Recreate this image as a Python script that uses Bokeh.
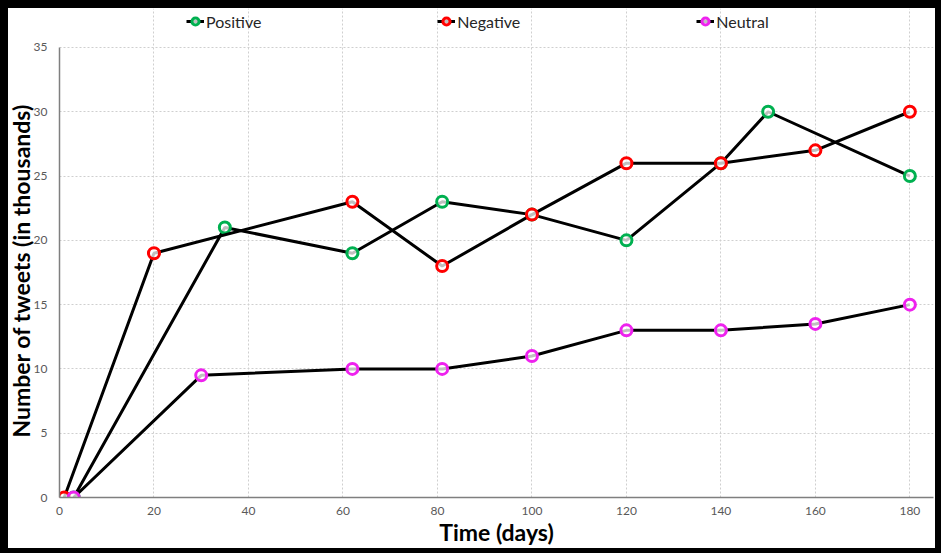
from bokeh.plotting import figure
from bokeh.models import Range1d, FixedTicker, Legend, LegendItem, Column, Title
from bokeh.embed import file_html
from bokeh.resources import INLINE

# Data
pos_x = [3, 35, 62, 81, 100, 120, 140, 150, 180]
pos_y = [0, 21, 19, 23, 22, 20, 26, 30, 25]
neg_x = [1, 20, 62, 81, 100, 120, 140, 160, 180]
neg_y = [0, 19, 23, 18, 22, 26, 26, 27, 30]
neu_x = [3, 30, 62, 81, 100, 120, 140, 160, 180]
neu_y = [0, 9.5, 10, 10, 11, 13, 13, 13.5, 15]
series_names = ["Positive", "Negative", "Neutral"]
series_colors = ["#00b050", "#ff0000", "#ee22ee"]
x_ticks = [0, 20, 40, 60, 80, 100, 120, 140, 160, 180]
y_ticks = [0, 5, 10, 15, 20, 25, 30, 35]
Y_MAX = 35

FONT = "Lato"

# frame extends above the 0-35 axis so the legend can sit at the top
p = figure(width=927, height=540, output_backend="svg", toolbar_location=None,
           x_range=Range1d(0, 185), y_range=Range1d(0, 38.03),
           min_border_left=51, min_border_right=2, min_border_top=0, min_border_bottom=51)
p.outline_line_color = None
p.background_fill_color = "white"
p.border_fill_color = "white"

for ax in (p.xaxis, p.yaxis):
    ax.major_tick_line_color = None
    ax.minor_tick_line_color = None
    ax.major_tick_out = 0
    ax.major_tick_in = 0
    ax.minor_tick_out = 0
    ax.minor_tick_in = 0
    ax.major_label_text_font = FONT
    ax.major_label_text_font_size = "12px"
    ax.major_label_text_color = "#595959"
    ax.axis_label_text_font = FONT
    ax.axis_label_text_font_style = "bold"
    ax.axis_label_text_color = "black"
    ax.axis_line_color = "#7f7f7f"
    ax.axis_line_width = 1.5

p.yaxis.bounds = (0, Y_MAX)
p.xaxis.axis_label_text_font_size = "23px"
p.xaxis.ticker = FixedTicker(ticks=x_ticks)
p.yaxis.ticker = FixedTicker(ticks=y_ticks)
p.xaxis.axis_label = "Time (days)"
p.xaxis.major_label_standoff = 9
p.yaxis.major_label_standoff = 12
p.xaxis.axis_label_standoff = 0

ytitle = Title(text="Number of tweets (in thousands)", align="left", offset=60,
               text_font=FONT, text_font_style="bold", text_font_size="23px",
               text_color="black", standoff=-8)
p.add_layout(ytitle, "left")

for g in (p.xgrid, p.ygrid):
    g.grid_line_color = "#cfcfcf"
    g.grid_line_dash = "2 2"
    g.grid_line_width = 1
p.xgrid.ticker = FixedTicker(ticks=x_ticks[1:])
p.ygrid.ticker = FixedTicker(ticks=y_ticks[1:])
p.xgrid.bounds = (0, Y_MAX)

items = []
for name, xs, ys, col in zip(series_names, [pos_x, neg_x, neu_x], [pos_y, neg_y, neu_y], series_colors):
    ln = p.line(xs, ys, line_color="black", line_width=3)
    sc = p.scatter(xs, ys, marker="circle", size=11, line_color=col, line_width=3,
                   fill_color="white", fill_alpha=0.75)
    items.append((name, ln, sc))

legend_items = [LegendItem(label=n, renderers=[ln, sc]) for n, ln, sc in items]
legend = Legend(items=legend_items, orientation="horizontal", location=(127, 466),
                spacing=176, padding=0, margin=0, label_standoff=2,
                glyph_width=18, glyph_height=20, label_height=20,
                label_text_font=FONT, label_text_font_size="16px", label_text_color="#262626",
                border_line_color=None, background_fill_alpha=0)
p.add_layout(legend, "center")

layout = Column(p, styles={"border-style": "solid", "border-color": "black",
                           "border-width": "8px 6px 5px 8px"})

open("out.html", "w").write(file_html(layout, INLINE))
